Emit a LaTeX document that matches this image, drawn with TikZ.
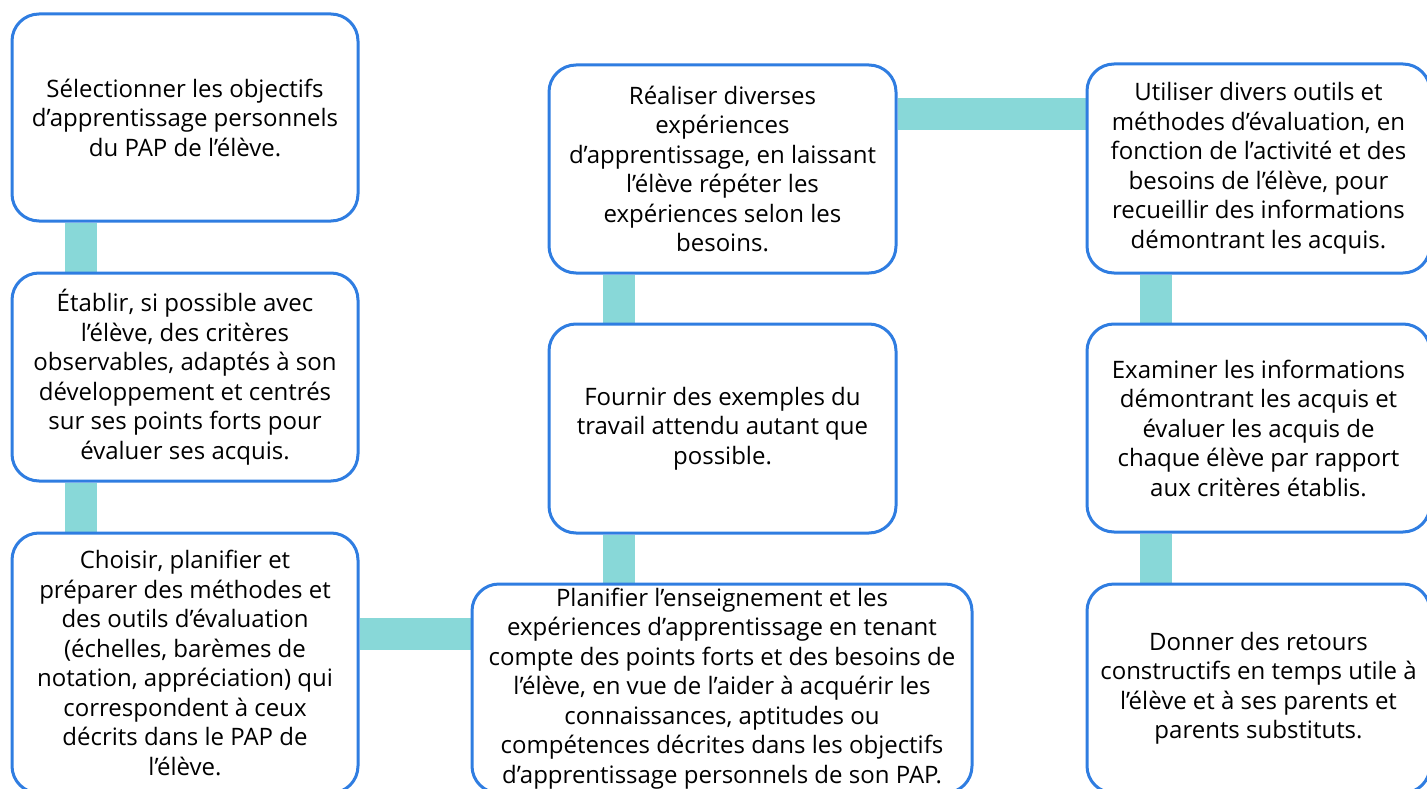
\documentclass[tikz,border=0pt]{standalone}
\usepackage{fontspec}
\setmainfont{Open Sans}
\usetikzlibrary{positioning, backgrounds}
\definecolor{boxblue}{RGB}{47,125,225}
\definecolor{linkteal}{RGB}{136,216,216}
\tikzstyle{box} = [rectangle, rounded corners=27pt, draw=boxblue, line width=3pt, fill=white, align=center, inner sep=0pt, font=\fontsize{24}{29.5}\selectfont]
\tikzstyle{link} = [linkteal, line width=32pt]

\begin{document}
\begin{tikzpicture}[x=1pt, y=-1pt]

\useasboundingbox (0,0) rectangle (1427,789);
\clip (0,0) rectangle (1427,789);

% left column

\node[box, minimum width=346pt, minimum height=207pt] (objectives) at (185,117.5) {Sélectionner les objectifs\\d’apprentissage personnels\\du PAP de l’élève.};
\node[box, minimum width=346pt, minimum height=208pt] (criteria) at (185,377) {Établir, si possible avec\\l’élève, des critères\\observables, adaptés à son\\développement et centrés\\sur ses points forts pour\\évaluer ses acquis.};
\node[box, minimum width=346pt, minimum height=260pt] (tools) at (185,663) {Choisir, planifier et\\préparer des méthodes et\\des outils d’évaluation\\(échelles, barèmes de\\notation, appréciation) qui\\correspondent à ceux\\décrits dans le PAP de\\l’élève.};

% middle column

\node[box, minimum width=500pt, minimum height=209pt] (planning) at (722,688.5) {Planifier l’enseignement et les\\expériences d’apprentissage en tenant\\compte des points forts et des besoins de\\l’élève, en vue de l’aider à acquérir les\\connaissances, aptitudes ou\\compétences décrites dans les objectifs\\d’apprentissage personnels de son PAP.};
\node[box, minimum width=347pt, minimum height=209pt] (examples) at (722.5,428.5) {Fournir des exemples du\\travail attendu autant que\\possible.};
\node[box, minimum width=347pt, minimum height=208pt] (experiences) at (722.5,169) {Réaliser diverses\\expériences\\d’apprentissage, en laissant\\l’élève répéter les\\expériences selon les\\besoins.};

% right column

\node[box, minimum width=343pt, minimum height=209pt] (gathering) at (1258.5,168.5) {Utiliser divers outils et\\méthodes d’évaluation, en\\fonction de l’activité et des\\besoins de l’élève, pour\\recueillir des informations\\démontrant les acquis.};
\node[box, minimum width=343pt, minimum height=208pt] (review) at (1258.5,428) {Examiner les informations\\démontrant les acquis et\\évaluer les acquis de\\chaque élève par rapport\\aux critères établis.};
\node[box, minimum width=343pt, minimum height=209pt] (feedback) at (1258.5,688.5) {Donner des retours\\constructifs en temps utile à\\l’élève et à ses parents et\\parents substituts.};

% connectors

\begin{scope}[on background layer]
\draw [link] ([xshift=70pt]objectives.south west) -- ([xshift=70pt]criteria.north west);
\draw [link] ([xshift=70pt]criteria.south west) -- ([xshift=70pt]tools.north west);
\draw [link] ([yshift=-102pt]tools.north east) -- ([yshift=-102pt]tools.north east -| planning.west);
\draw [link] ([xshift=71pt]planning.north west -| examples.west) -- ([xshift=71pt]examples.south west);
\draw [link] ([xshift=71pt]examples.north west) -- ([xshift=71pt]experiences.south west);
\draw [link] ([yshift=-51pt]experiences.north east) -- ([yshift=-51pt]experiences.north east -| gathering.west);
\draw [link] ([xshift=70pt]gathering.south west) -- ([xshift=70pt]review.north west);
\draw [link] ([xshift=70pt]review.south west) -- ([xshift=70pt]feedback.north west);
\end{scope}

\end{tikzpicture}
\end{document}
